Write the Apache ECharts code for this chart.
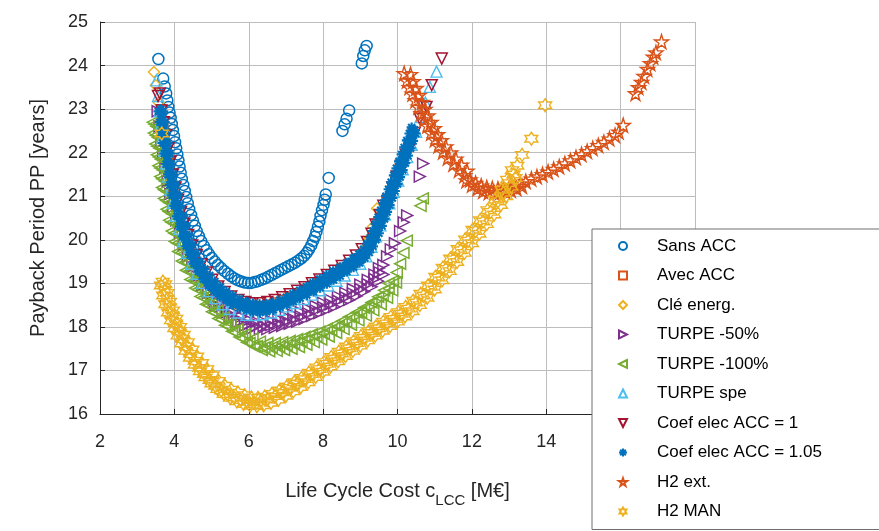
<!DOCTYPE html>
<html>
<head>
<meta charset="utf-8">
<script src="https://cdn.jsdelivr.net/npm/echarts@6/dist/echarts.min.js"></script>
<style>html,body{margin:0;padding:0;background:#fff}#c{width:879px;height:531px}</style>
</head>
<body>
<div id="c"></div>
<script>
// ---- Data (x: Life Cycle Cost [M€], y: Payback Period [years]) ----
const seriesNames = ['Sans ACC','Avec ACC','Clé energ.','TURPE -50%','TURPE -100%','TURPE spe','Coef elec ACC = 1','Coef elec ACC = 1.05','H2 ext.','H2 MAN'];
const xTicks = [2,4,6,8,10,12,14,16,18];
const yTicks = [16,17,18,19,20,21,22,23,24,25];

const sansACC = [[3.57,24.15],[3.7,23.7],[3.74,23.52],[3.78,23.36],[3.81,23.2],[3.84,23.05],[3.87,22.92],[3.9,22.8],[3.93,22.66],[3.96,22.52],[3.99,22.38],[4.02,22.24],[4.05,22.1],[4.08,21.96],[4.11,21.82],[4.14,21.68],[4.17,21.54],[4.2,21.4],[4.24,21.26],[4.28,21.12],[4.32,20.98],[4.36,20.84],[4.4,20.7],[4.45,20.57],[4.5,20.44],[4.55,20.32],[4.6,20.2],[4.66,20.08],[4.72,19.97],[4.79,19.86],[4.86,19.76],[4.93,19.67],[5.01,19.58],[5.09,19.5],[5.17,19.42],[5.26,19.35],[5.35,19.28],[5.44,19.22],[5.53,19.16],[5.62,19.11],[5.71,19.07],[5.8,19.04],[5.89,19.02],[5.98,19.01],[6.07,19.01],[6.16,19.03],[6.25,19.05],[6.34,19.08],[6.43,19.11],[6.52,19.15],[6.61,19.19],[6.7,19.23],[6.79,19.27],[6.88,19.31],[6.97,19.35],[7.06,19.39],[7.15,19.43],[7.24,19.47],[7.33,19.52],[7.41,19.57],[7.49,19.63],[7.56,19.7],[7.62,19.78],[7.68,19.87],[7.73,19.97],[7.78,20.07],[7.82,20.18],[7.86,20.3],[7.9,20.42],[7.93,20.55],[7.97,20.68],[8.01,20.8],[8.04,20.92],[8.07,21.04],[8.15,21.42],[8.52,22.5],[8.58,22.65],[8.63,22.78],[8.7,22.97],[9.04,24.05],[9.08,24.22],[9.12,24.35],[9.17,24.45]];

const avecACC = [[3.64,23.0],[3.7,22.6],[3.76,22.2],[3.83,21.8],[3.9,21.45],[3.97,21.1],[4.06,20.75],[4.16,20.4],[4.27,20.07],[4.4,19.77],[4.55,19.5],[4.72,19.26],[4.9,19.05],[5.1,18.87],[5.3,18.73],[5.5,18.62],[5.7,18.54],[5.9,18.49],[6.1,18.47],[6.3,18.48],[6.5,18.51],[6.7,18.56],[6.9,18.62],[7.1,18.69],[7.3,18.77],[7.5,18.85],[7.7,18.94],[7.9,19.03],[8.1,19.13],[8.3,19.23],[8.5,19.34],[8.7,19.45],[8.9,19.57],[9.08,19.72],[9.22,19.9],[9.34,20.1],[9.46,20.35],[9.58,20.6],[9.7,20.86],[9.82,21.12],[9.94,21.38],[10.06,21.65],[10.18,21.92],[10.3,22.2],[10.4,22.45]];

const cleEnerg = [[3.45,23.85],[3.5,23.55],[3.58,23.15],[3.64,22.75],[3.7,22.4],[3.76,22.05],[3.83,21.7],[3.9,21.35],[3.98,21.0],[4.07,20.65],[4.18,20.3],[4.3,19.98],[4.44,19.68],[4.6,19.4],[4.78,19.15],[4.98,18.93],[5.2,18.74],[5.42,18.6],[5.66,18.5],[5.9,18.44],[6.14,18.42],[6.38,18.44],[6.62,18.49],[6.86,18.56],[7.1,18.64],[7.34,18.73],[7.58,18.83],[7.82,18.94],[8.06,19.05],[8.3,19.17],[8.54,19.3],[8.76,19.44],[8.96,19.6],[9.12,19.8],[9.24,20.03],[9.34,20.3],[9.45,20.72]];

const turpe50 = [[3.55,22.95],[3.6,22.6],[3.65,22.25],[3.7,21.95],[3.76,21.65],[3.82,21.35],[3.89,21.05],[3.97,20.75],[4.05,20.45],[4.15,20.15],[4.25,19.88],[4.36,19.62],[4.48,19.38],[4.61,19.16],[4.75,18.96],[4.9,18.78],[5.06,18.61],[5.23,18.46],[5.41,18.33],[5.6,18.22],[5.8,18.13],[6.0,18.06],[6.2,18.02],[6.4,18.02],[6.6,18.04],[6.8,18.08],[7.0,18.13],[7.2,18.18],[7.4,18.24],[7.6,18.31],[7.8,18.38],[8.0,18.45],[8.2,18.52],[8.4,18.6],[8.6,18.68],[8.8,18.77],[9.0,18.87],[9.2,18.98],[9.38,19.1],[9.52,19.25],[9.62,19.42],[9.72,19.62],[9.82,19.78],[9.93,19.92],[10.07,20.2],[10.17,20.4],[10.26,20.56],[10.6,21.45],[10.69,21.75],
[5.0,18.76],[5.2,18.59],[5.4,18.45],[5.6,18.33],[5.8,18.23],[6.0,18.16],[6.2,18.12],[6.4,18.12],[6.6,18.14],[6.8,18.18],[7.0,18.23],[7.2,18.28],[7.4,18.34],[7.6,18.41],[7.8,18.48],[8.0,18.55],[8.2,18.62],[8.4,18.7],[8.6,18.78],[8.8,18.87],[9.0,18.97],[9.2,19.08],[9.38,19.2],[9.5,19.35],
[5.1,18.5],[5.3,18.35],[5.5,18.22],[5.7,18.11],[5.9,18.03],[6.1,17.97],[6.3,17.94],[6.5,17.95],[6.7,17.98],[6.9,18.02],[7.1,18.07],[7.3,18.12],[7.5,18.18],[7.7,18.25],[7.9,18.32],[8.1,18.39],[8.3,18.46],[8.5,18.54],[8.7,18.62],[8.9,18.71],[9.1,18.81],[9.3,18.92],[9.48,19.05],[9.62,19.2]];

const turpe100 = [[3.47,22.65],[3.5,22.4],[3.54,22.15],[3.58,21.9],[3.62,21.65],[3.67,21.4],[3.72,21.15],[3.78,20.9],[3.85,20.65],[3.92,20.4],[4.0,20.15],[4.08,19.92],[4.17,19.7],[4.27,19.48],[4.38,19.27],[4.5,19.06],[4.63,18.86],[4.77,18.67],[4.92,18.5],[5.08,18.33],[5.25,18.17],[5.43,18.02],[5.62,17.88],[5.82,17.74],[6.02,17.63],[6.22,17.56],[6.42,17.53],[6.62,17.53],[6.82,17.55],[7.02,17.58],[7.22,17.62],[7.42,17.67],[7.62,17.72],[7.82,17.78],[8.02,17.85],[8.22,17.93],[8.42,18.02],[8.62,18.12],[8.82,18.22],[9.02,18.33],[9.22,18.45],[9.42,18.58],[9.6,18.72],[9.76,18.88],[9.88,19.05],[9.98,19.25],[10.07,19.45],[10.16,19.7],[10.25,19.98],[10.62,20.78],[10.68,20.95],
[3.52,22.6],[3.56,22.35],[3.6,22.1],[3.64,21.85],[3.69,21.6],[3.74,21.35],[3.8,21.1],[3.86,20.85],[3.93,20.6],[4.0,20.36],[4.08,20.12],[4.16,19.9],[4.25,19.68],[4.35,19.47],[4.46,19.27],[4.58,19.07],[4.71,18.88],[4.85,18.7],[5.0,18.53],[5.16,18.37],[5.33,18.22],[5.51,18.08],[5.7,17.95],[5.9,17.83],[6.1,17.73],[6.3,17.66],[6.5,17.63],[6.7,17.63],[6.9,17.65],[7.1,17.68],[7.3,17.72],[7.5,17.77],[7.7,17.83],[7.9,17.89],[8.1,17.96],[8.3,18.04],[8.5,18.13],[8.7,18.23],[8.9,18.33],[9.1,18.44],[9.3,18.56],[9.48,18.69],[9.64,18.84],[9.76,19.0],
[3.42,22.7],[3.45,22.45],[3.49,22.2],[3.53,21.95],[3.57,21.7],[3.62,21.45],[3.67,21.2],[3.72,20.95],[3.79,20.7],[3.86,20.45],[3.93,20.2],[4.01,19.96],[4.1,19.73],[4.2,19.51],[4.31,19.3],[4.43,19.09],[4.56,18.89],[4.7,18.7],[4.85,18.52],[5.01,18.35],[5.18,18.19],[5.36,18.04],[5.55,17.9],[5.75,17.77],[5.95,17.65],[6.15,17.55],[6.35,17.47],[6.55,17.44],[6.75,17.45],[6.95,17.47],[7.15,17.5],[7.35,17.54],[7.55,17.59],[7.75,17.65],[7.95,17.71],[8.15,17.78],[8.35,17.86],[8.55,17.95],[8.75,18.05],[8.95,18.15],[9.15,18.26],[9.35,18.38],[9.55,18.52],[9.72,18.67],[9.86,18.84],[9.96,19.02]];

const turpeSpe = [[3.52,23.66],[3.56,23.3],[3.6,22.95],[3.64,22.65],[3.68,22.35],[3.73,22.05],[3.78,21.75],[3.83,21.45],[3.89,21.15],[3.96,20.85],[4.04,20.55],[4.13,20.25],[4.23,19.97],[4.34,19.7],[4.46,19.45],[4.6,19.22],[4.75,19.01],[4.92,18.82],[5.1,18.66],[5.3,18.52],[5.5,18.41],[5.72,18.33],[5.94,18.28],[6.16,18.27],[6.38,18.29],[6.6,18.33],[6.82,18.39],[7.04,18.47],[7.26,18.55],[7.48,18.64],[7.7,18.74],[7.92,18.84],[8.14,18.95],[8.36,19.06],[8.58,19.18],[8.8,19.31],[9.0,19.45],[9.16,19.62],[9.3,19.84],[9.42,20.08],[9.54,20.33],[9.66,20.58],[9.78,20.84],[9.9,21.1],[10.02,21.36],[10.14,21.62],[10.26,21.9],[10.38,22.18],[10.5,22.48],[10.62,22.82],[10.75,23.15],[10.87,23.51],[11.05,23.86]];

const coef1 = [[3.56,23.3],[3.61,23.36],[3.66,22.97],[3.72,22.7],[3.78,22.4],[3.84,22.1],[3.9,21.8],[3.96,21.5],[4.03,21.2],[4.1,20.92],[4.18,20.64],[4.27,20.37],[4.37,20.11],[4.48,19.87],[4.6,19.65],[4.73,19.44],[4.87,19.25],[5.02,19.08],[5.18,18.93],[5.35,18.8],[5.53,18.7],[5.72,18.62],[5.91,18.57],[6.1,18.54],[6.3,18.54],[6.5,18.57],[6.7,18.62],[6.9,18.68],[7.1,18.75],[7.3,18.83],[7.5,18.91],[7.7,19.0],[7.9,19.09],[8.1,19.19],[8.3,19.29],[8.5,19.4],[8.7,19.52],[8.88,19.64],[9.04,19.78],[9.18,19.95],[9.3,20.14],[9.41,20.35],[9.52,20.57],[9.62,20.78],[9.75,20.9],[9.86,21.2],[9.98,21.45],[10.1,21.7],[10.22,21.95],[10.34,22.13],[10.46,22.45],[10.6,22.78],[10.78,23.05],[10.92,23.55],[11.19,24.16]];

const coef105 = [[3.63,23.0],[3.65,22.88],[3.67,22.76],[3.69,22.64],[3.71,22.52],[3.73,22.4],[3.75,22.28],[3.77,22.16],[3.79,22.04],[3.81,21.92],[3.83,21.8],[3.86,21.68],[3.88,21.56],[3.91,21.44],[3.93,21.32],[3.96,21.2],[3.99,21.08],[4.02,20.96],[4.05,20.84],[4.08,20.72],[4.12,20.6],[4.15,20.48],[4.19,20.36],[4.23,20.24],[4.27,20.12],[4.31,20.0],[4.36,19.89],[4.41,19.78],[4.46,19.67],[4.51,19.56],[4.57,19.46],[4.63,19.36],[4.69,19.27],[4.76,19.18],[4.83,19.1],[4.9,19.02],[4.98,18.95],[5.06,18.88],[5.14,18.82],[5.23,18.76],[5.32,18.7],[5.42,18.65],[5.52,18.6],[5.62,18.56],[5.72,18.52],[5.82,18.49],[5.92,18.46],[6.02,18.44],[6.12,18.43],[6.22,18.42],[6.32,18.42],[6.42,18.43],[6.52,18.45],[6.62,18.47],[6.72,18.5],[6.82,18.53],[6.92,18.57],[7.02,18.6],[7.12,18.64],[7.22,18.68],[7.32,18.72],[7.42,18.76],[7.52,18.8],[7.62,18.85],[7.72,18.89],[7.82,18.94],[7.92,18.98],[8.02,19.03],[8.12,19.07],[8.22,19.12],[8.32,19.17],[8.42,19.22],[8.52,19.27],[8.62,19.33],[8.72,19.38],[8.82,19.44],[8.92,19.5],[9.01,19.57],[9.09,19.64],[9.17,19.73],[9.24,19.82],[9.3,19.93],[9.36,20.04],[9.41,20.15],[9.46,20.26],[9.51,20.37],[9.56,20.48],[9.61,20.59],[9.66,20.7],[9.71,20.81],[9.76,20.92],[9.81,21.03],[9.86,21.14],[9.91,21.25],[9.96,21.36],[10.01,21.47],[10.06,21.58],[10.11,21.69],[10.16,21.8],[10.21,21.92],[10.26,22.04],[10.31,22.16],[10.36,22.28],[10.41,22.4],[10.46,22.52],
[3.57,22.95],[3.61,22.7],[3.65,22.46],[3.69,22.22],[3.73,21.98],[3.78,21.74],[3.83,21.5],[3.88,21.26],[3.94,21.02],[4.0,20.78],[4.07,20.54],[4.15,20.3],[4.23,20.08],[4.32,19.86],[4.42,19.65],[4.53,19.45],[4.65,19.27],[4.78,19.1],[4.92,18.95],[5.07,18.82],[5.23,18.7],[5.4,18.6],[5.58,18.51],[5.76,18.44],[5.94,18.38],[6.12,18.34],[6.3,18.33],[6.48,18.35],[6.66,18.39],[6.84,18.45],[7.02,18.51],[7.2,18.58],[7.38,18.66],[7.56,18.73],[7.74,18.81],[7.92,18.9],[8.1,18.99],[8.28,19.08],[8.46,19.17],[8.64,19.27],[8.82,19.37],[8.98,19.47],[9.12,19.58],[9.24,19.71],[9.34,19.85],[9.42,20.0],[9.5,20.15],[9.58,20.32],[9.65,20.48],[9.72,20.64],[9.79,20.8],[9.86,20.96],[9.93,21.12],[10.0,21.28],[10.07,21.44],[10.14,21.6],[10.21,21.76],[10.28,21.93],[10.35,22.1],[10.42,22.27],[10.49,22.44],
[3.7,22.95],[3.74,22.7],[3.78,22.46],[3.82,22.22],[3.87,21.98],[3.92,21.74],[3.97,21.5],[4.03,21.26],[4.09,21.02],[4.16,20.78],[4.23,20.55],[4.31,20.32],[4.4,20.1],[4.49,19.89],[4.59,19.69],[4.7,19.5],[4.82,19.33],[4.95,19.18],[5.09,19.04],[5.24,18.92],[5.4,18.81],[5.57,18.72],[5.75,18.64],[5.93,18.58],[6.11,18.54],[6.29,18.52],[6.47,18.53],[6.65,18.56],[6.83,18.61],[7.01,18.68],[7.19,18.76],[7.37,18.84],[7.55,18.92],[7.73,19.01],[7.91,19.1],[8.09,19.19],[8.27,19.28],[8.45,19.37],[8.63,19.47],[8.8,19.57],[8.96,19.67],[9.09,19.78],[9.19,19.91],[9.27,20.05],[9.34,20.2],[9.41,20.36],[9.48,20.52],[9.55,20.68],[9.62,20.84],[9.69,21.0],[9.76,21.16],[9.83,21.32],[9.9,21.48],[9.97,21.64],[10.04,21.8],[10.11,21.96],[10.18,22.12],[10.25,22.28],[10.32,22.44],[10.38,22.58]];

const h2ext = [[10.18,23.82],[10.25,23.65],[10.32,23.5],[10.4,23.35],[10.48,23.2],[10.56,23.05],[10.64,22.9],[10.72,22.76],[10.8,22.62],[10.9,22.45],[11.0,22.3],[11.1,22.16],[11.22,22.02],[11.35,21.88],[11.5,21.74],[11.65,21.6],[11.8,21.48],[11.95,21.38],[12.1,21.3],[12.25,21.24],[12.4,21.2],[12.55,21.18],[12.7,21.17],[12.85,21.18],[13.0,21.2],[13.15,21.24],[13.3,21.29],[13.45,21.34],[13.6,21.4],[13.75,21.45],[13.9,21.5],[14.05,21.56],[14.2,21.62],[14.35,21.68],[14.5,21.75],[14.65,21.82],[14.8,21.89],[14.95,21.96],[15.1,22.03],[15.25,22.1],[15.4,22.17],[15.55,22.24],[15.7,22.32],[15.85,22.4],[15.95,22.48],[16.07,22.63],[16.4,23.36],[16.48,23.5],[16.56,23.62],[16.63,23.76],[16.72,23.92],[16.8,24.05],[16.88,24.2],[16.95,24.3],[17.1,24.55],
[10.35,23.8],[10.42,23.64],[10.5,23.48],[10.58,23.32],[10.66,23.16],[10.74,23.0],[10.82,22.85],[10.9,22.7],[10.99,22.56],[11.08,22.42],[11.18,22.28],[11.3,22.14],[11.43,22.0],[11.57,21.86],[11.72,21.72],[11.87,21.58],
[11.85,21.36],[12.0,21.26],[12.15,21.18],[12.3,21.12],[12.45,21.09],[12.6,21.08],[12.75,21.09],[12.9,21.11],[13.05,21.14],[13.2,21.18],[13.35,21.23]];

const h2man = [[3.66,22.44],[3.69,19.04],[3.74,18.85],[3.8,18.65],[3.87,18.45],[3.95,18.26],[4.04,18.08],[4.13,17.9],[4.22,17.72],[4.32,17.55],[4.43,17.38],[4.55,17.22],[4.67,17.06],[4.8,16.92],[4.95,16.78],[5.1,16.65],[5.26,16.54],[5.43,16.45],[5.6,16.38],[5.78,16.32],[5.96,16.28],[6.14,16.27],[6.32,16.29],[6.5,16.34],[6.7,16.41],[6.9,16.5],[7.1,16.6],[7.3,16.7],[7.5,16.8],[7.7,16.92],[7.9,17.03],[8.1,17.15],[8.3,17.27],[8.5,17.39],[8.7,17.51],[8.9,17.63],[9.1,17.75],[9.3,17.86],[9.5,17.97],[9.7,18.08],[9.9,18.18],[10.1,18.3],[10.3,18.42],[10.5,18.56],[10.7,18.72],[10.9,18.92],[11.1,19.13],[11.3,19.33],[11.5,19.55],[11.7,19.76],[11.9,19.98],[12.1,20.2],[12.3,20.42],[12.5,20.64],[12.7,20.88],[12.85,21.08],[13.0,21.3],[13.12,21.5],[13.22,21.7],[13.35,21.95],[13.6,22.32],[13.97,23.09],
[3.75,18.98],[3.81,18.78],[3.88,18.58],[3.96,18.38],[4.05,18.19],[4.15,18.0],[4.25,17.82],[4.36,17.65],[4.48,17.48],[4.61,17.32],[4.74,17.17],[4.88,17.03],[5.03,16.89],[5.19,16.76],[5.36,16.65],[5.53,16.56],[5.71,16.49],[5.89,16.43],[6.07,16.38],[6.25,16.37],[6.43,16.4],[6.62,16.46],[6.82,16.54],[7.02,16.63],[7.22,16.73],[7.42,16.83],[7.62,16.95],[7.82,17.07],[8.02,17.19],[8.22,17.31],[8.42,17.43],[8.62,17.55],[8.82,17.67],[9.02,17.79],[9.22,17.9],[9.42,18.01],[9.62,18.12],[9.82,18.23],[10.02,18.34],[10.22,18.46],[10.42,18.6],[10.62,18.76],[10.82,18.95],[11.02,19.15],[11.22,19.36],[11.42,19.57],[11.62,19.79],[11.82,20.01],[12.02,20.23],[12.22,20.45],[12.42,20.68],[12.62,20.92],[12.8,21.15],[12.95,21.38],[13.08,21.6],
[3.64,18.95],[3.7,18.72],[3.76,18.52],[3.83,18.33],[3.91,18.15],[4.0,17.97],[4.09,17.8],[4.19,17.62],[4.3,17.45],[4.42,17.29],[4.55,17.13],[4.69,16.98],[4.84,16.84],[5.0,16.7],[5.16,16.57],[5.33,16.46],[5.5,16.37],[5.68,16.29],[5.86,16.23],[6.04,16.19],[6.22,16.18],[6.4,16.2],[6.6,16.26],[6.8,16.33],[7.0,16.42],[7.2,16.52],[7.4,16.62],[7.6,16.73],[7.8,16.85],[8.0,16.97],[8.2,17.09],[8.4,17.21],[8.6,17.33],[8.8,17.45],[9.0,17.57],[9.2,17.69],[9.4,17.8],[9.6,17.91],[9.8,18.02],[10.0,18.12],[10.2,18.24],[10.4,18.36],[10.6,18.5],[10.8,18.67],[11.0,18.86],[11.2,19.07],[11.4,19.28],[11.6,19.49],[11.8,19.7],[12.0,19.92],[12.2,20.14],[12.4,20.36],[12.6,20.58],[12.78,20.8],[12.92,21.0],[13.06,21.22],[13.17,21.42]];

// ---- Styling ----
const colors = ['#0072BD','#D95319','#EDB120','#7E2F8E','#77AC30','#4DBEEE','#A2142F','#0072BD','#D95319','#EDB120'];
const symbols = [
  'circle',
  'rect',
  'diamond',
  'path://M0,0L10,5L0,10Z',
  'path://M10,0L0,5L10,10Z',
  'path://M5,0L10,10L0,10Z',
  'path://M0,0L10,0L5,10Z',
  'path://M5,0L5,10M0,5L10,5M1.5,1.5L8.5,8.5M1.5,8.5L8.5,1.5',
  'path://M50,0L61.23,34.55L97.55,34.55L68.17,55.9L79.39,90.45L50,69.1L20.61,90.45L31.83,55.9L2.45,34.55L38.77,34.55Z',
  'path://M50,0L64.43,25L93.3,25L78.87,50L93.3,75L64.43,75L50,100L35.57,75L6.7,75L21.13,50L6.7,25L35.57,25Z'
];
const sizes = [11,9,11,11,11,11,11,10,14,13];
const widths = [1.5,1.4,1.4,1.5,1.5,1.4,1.5,2.2,1.4,1.4];
const datasets = [sansACC, avecACC, cleEnerg, turpe50, turpe100, turpeSpe, coef1, coef105, h2ext, h2man];

const font = "'Liberation Sans', Arial, Helvetica, sans-serif";
const chart = echarts.init(document.getElementById('c'), null, {renderer:'canvas'});

const series = datasets.map((d, i) => ({
  name: seriesNames[i],
  type: 'scatter',
  data: d,
  symbol: symbols[i],
  symbolSize: sizes[i],
  itemStyle: { color: 'rgba(255,255,255,0)', borderColor: colors[i], borderWidth: widths[i], opacity: 1 },
  emphasis: { disabled: true },
  animation: false
}));

chart.setOption({
  animation: false,
  backgroundColor: '#fff',
  grid: { left: 100, top: 22, right: 184, bottom: 117, containLabel: false },
  xAxis: {
    type: 'value', min: 2, max: 18, interval: 2,
    axisLine: { show: true, lineStyle: { color: '#262626', width: 1 } },
    axisTick: { show: true, inside: true, length: 5, lineStyle: { color: '#262626' } },
    axisLabel: { color: '#262626', fontSize: 18, fontFamily: font, margin: 19 },
    splitLine: { show: true, lineStyle: { color: '#bdbdbd', width: 1 } },
    name: '{a|Life Cycle Cost c}{s|LCC}{a| [M€]}',
    nameLocation: 'middle', nameGap: 67,
    nameTextStyle: {
      color: '#262626', fontFamily: font,
      rich: {
        a: { fontSize: 20, fontFamily: font, color: '#262626', verticalAlign: 'top' },
        s: { fontSize: 15, fontFamily: font, color: '#262626', verticalAlign: 'bottom', padding: [12, 0, 0, 0] }
      }
    }
  },
  yAxis: {
    type: 'value', min: 16, max: 25, interval: 1,
    axisLine: { show: true, lineStyle: { color: '#262626', width: 1 } },
    axisTick: { show: true, inside: true, length: 5, lineStyle: { color: '#262626' } },
    axisLabel: { color: '#262626', fontSize: 18, fontFamily: font, margin: 12 },
    splitLine: { show: true, lineStyle: { color: '#bdbdbd', width: 1 } },
    name: 'Payback Period PP [years]',
    nameLocation: 'middle', nameGap: 52,
    nameTextStyle: { color: '#262626', fontSize: 20, fontFamily: font }
  },
  legend: {
    orient: 'vertical', left: 592, top: 229,
    backgroundColor: '#fff', borderColor: '#6e6e6e', borderWidth: 1,
    padding: [7, 120, 8, 26],
    itemWidth: 8, itemHeight: 8, itemGap: 9.5,
    textStyle: { fontSize: 17, fontFamily: font, color: '#000', lineHeight: 20, padding: [0, 0, 0, 25] },
    data: seriesNames
  },
  series: series
});
</script>
</body>
</html>
